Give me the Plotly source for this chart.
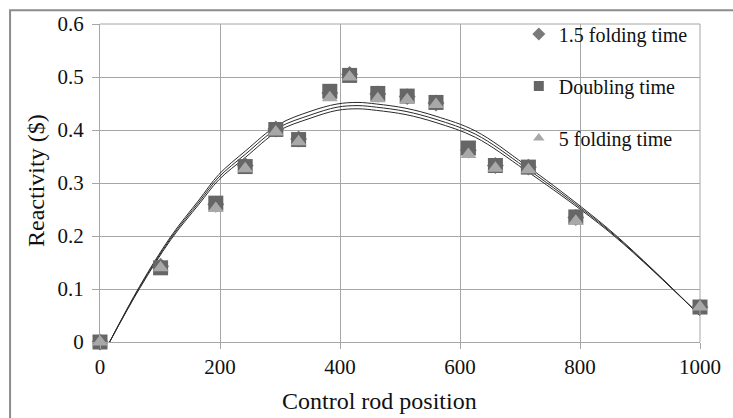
import plotly.graph_objects as go

# Measured points
positions = [0, 101, 193, 242, 293, 331, 383, 416, 463, 512, 560, 614, 659, 714, 793, 1000]
folding_1_5 = [0, 0.143, 0.260, 0.333, 0.402, 0.383, 0.470, 0.505, 0.468, 0.463, 0.451, 0.362, 0.333, 0.330, 0.235, 0.066]
doubling = [0, 0.140, 0.262, 0.331, 0.401, 0.382, 0.473, 0.503, 0.469, 0.464, 0.452, 0.366, 0.333, 0.330, 0.236, 0.066]
folding_5 = [0, 0.140, 0.252, 0.327, 0.396, 0.378, 0.461, 0.500, 0.459, 0.457, 0.448, 0.354, 0.328, 0.325, 0.228, 0.066]

# Trend curves
curve_x = [16, 66, 118, 165, 198, 242, 297, 350, 395, 430, 461, 510, 560, 626, 708, 802, 857, 923, 1000]
curve_upper = [0, 0.105, 0.199, 0.268, 0.316, 0.360, 0.410, 0.435, 0.449, 0.452, 0.449, 0.441, 0.426, 0.398, 0.335, 0.255, 0.204, 0.135, 0.05]
curve_mid = [0, 0.103, 0.196, 0.264, 0.311, 0.354, 0.404, 0.428, 0.443, 0.446, 0.443, 0.435, 0.420, 0.392, 0.330, 0.252, 0.202, 0.134, 0.05]
curve_lower = [0, 0.101, 0.193, 0.260, 0.306, 0.348, 0.398, 0.422, 0.437, 0.440, 0.437, 0.429, 0.414, 0.386, 0.325, 0.249, 0.200, 0.133, 0.05]

x_ticks = [0, 200, 400, 600, 800, 1000]
y_ticks = [0, 0.1, 0.2, 0.3, 0.4, 0.5, 0.6]
y_tick_text = ["0", "0.1", "0.2", "0.3", "0.4", "0.5", "0.6"]
x_title = "Control rod position"
y_title = "Reactivity ($)"

FONT = "Liberation Serif"
TXT = "#111111"

fig = go.Figure()

for cy in (curve_upper, curve_mid, curve_lower):
    fig.add_trace(go.Scatter(x=curve_x, y=cy, mode="lines", line=dict(color="#2a2a2a", width=1, shape="spline"),
                             showlegend=False, hoverinfo="skip"))

series = [
    ("1.5 folding time", folding_1_5, "diamond", "#7a7a7a", 13),
    ("Doubling time", doubling, "square", "#666666", 15),
    ("5 folding time", folding_5, "triangle-up", "#a8a8a8", 14),
]
for name, vals, sym, col, sz in series:
    fig.add_trace(go.Scatter(x=positions, y=vals, mode="markers", name=name, cliponaxis=False,
                             marker=dict(symbol=sym, color=col, size=sz, line=dict(width=0)),
                             showlegend=False))
for i, (name, vals, sym, col, sz) in enumerate(series):
    fig.add_trace(go.Scatter(x=[None], y=[None], mode="markers", name=name, legendgroup=f"g{i}",
                             marker=dict(symbol=sym, color=col, size=10, line=dict(width=0))))

fig.update_layout(
    width=733, height=418,
    margin=dict(l=100, r=26, t=20, b=76),
    paper_bgcolor="white", plot_bgcolor="white",
    font=dict(family=FONT, size=20, color=TXT),
    legend=dict(x=0.698, y=1.03, xanchor="left", yanchor="top", bgcolor="rgba(0,0,0,0)",
                font=dict(family=FONT, size=20, color=TXT), tracegroupgap=23,
                itemsizing="trace"),
    xaxis=dict(range=[0, 1000], tickvals=x_ticks, showgrid=True, gridcolor="#a6a6a6", gridwidth=1,
               showline=True, linecolor="#a6a6a6", ticks="outside", ticklen=6, tickcolor="#a6a6a6",
               tickfont=dict(family=FONT, size=21, color=TXT), zeroline=False),
    yaxis=dict(range=[0, 0.6], tickvals=y_ticks, ticktext=y_tick_text, showgrid=True, gridcolor="#a6a6a6",
               gridwidth=1, showline=True, linecolor="#a6a6a6", ticks="outside", ticklen=7,
               tickcolor="#a6a6a6", tickfont=dict(family=FONT, size=21, color=TXT),
               ticklabelstandoff=4, zeroline=False),
    annotations=[
        dict(text=x_title, xref="paper", yref="paper", x=0.466, y=-0.186, xanchor="center",
             yanchor="middle", showarrow=False, font=dict(family=FONT, size=24, color=TXT)),
        dict(text=y_title, xref="paper", yref="paper", x=-0.107, y=0.509, xanchor="center",
             yanchor="middle", textangle=-90, showarrow=False, font=dict(family=FONT, size=24, color=TXT)),
    ],
    shapes=[
        dict(type="line", xref="paper", yref="paper", x0=1, x1=1, y0=0, y1=1,
             line=dict(color="#a6a6a6", width=1)),
        dict(type="line", xref="paper", yref="paper", x0=0, x1=1, y0=1, y1=1,
             line=dict(color="#a6a6a6", width=1)),
        dict(type="rect", xref="paper", yref="paper", x0=-0.1499, x1=1.3, y0=-0.5, y1=1.0435,
             line=dict(color="#8c8c8c", width=2), layer="below"),
    ],
)

fig.write_html("out.html")
